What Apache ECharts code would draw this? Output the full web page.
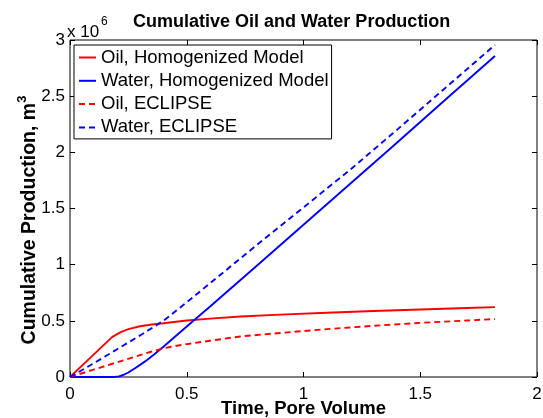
<!DOCTYPE html>
<html>
<head>
<meta charset="utf-8">
<script src="https://cdn.jsdelivr.net/npm/echarts@6/dist/echarts.min.js"></script>
<style>
html,body{margin:0;padding:0;background:#fff;}
#c{width:543px;height:418px;}
</style>
</head>
<body>
<div id="c"></div>
<script>
// Data (pore volume vs cumulative production in 10^6 m^3)
var pvOilHom = [0, 0.1, 0.18, 0.2, 0.22, 0.25, 0.3, 0.35, 0.4, 0.5, 0.6, 0.73, 0.9, 1.1, 1.3, 1.5, 1.7, 1.82];
var oilHom   = [0, 0.197, 0.355, 0.38, 0.402, 0.426, 0.452, 0.467, 0.478, 0.503, 0.52, 0.539, 0.555, 0.572, 0.588, 0.601, 0.614, 0.622];

var pvWaterHom = [0, 0.19, 0.21, 0.23, 0.25, 0.28, 0.3, 0.33, 0.36, 0.4, 0.5, 0.6, 0.8, 1.0, 1.2, 1.4, 1.6, 1.82];
var waterHom   = [0, 0, 0.006, 0.02, 0.04, 0.08, 0.108, 0.152, 0.2, 0.27, 0.45, 0.627, 0.99, 1.355, 1.72, 2.085, 2.455, 2.858];

var pvOilEcl = [0, 0.1, 0.2, 0.3, 0.35, 0.4, 0.45, 0.5, 0.6, 0.73, 0.9, 1.1, 1.3, 1.5, 1.7, 1.82];
var oilEcl   = [0, 0.065, 0.13, 0.195, 0.227, 0.255, 0.275, 0.293, 0.323, 0.361, 0.392, 0.426, 0.456, 0.482, 0.503, 0.516];

var pvWaterEcl = [0, 0.1, 0.2, 0.3, 0.4, 0.5, 0.6, 0.8, 1.0, 1.2, 1.4, 1.6, 1.82];
var waterEcl   = [0, 0.12, 0.245, 0.37, 0.5, 0.665, 0.835, 1.175, 1.51, 1.845, 2.2, 2.56, 2.956];

var seriesNames = ['Oil, Homogenized Model', 'Water, Homogenized Model', 'Oil, ECLIPSE', 'Water, ECLIPSE'];
var xTicks = [0, 0.5, 1, 1.5, 2];
var yTicks = [0, 0.5, 1, 1.5, 2, 2.5, 3];

function pairs(xs, ys) { return xs.map(function (x, i) { return [x, ys[i]]; }); }

var FONT = 'Liberation Sans, Arial, sans-serif';
var chart = echarts.init(document.getElementById('c'), null, {renderer: 'canvas'});

function mkLine(name, xs, ys, color, dashed) {
  return {
    name: name, type: 'line', data: pairs(xs, ys),
    xAxisIndex: 0, yAxisIndex: 0,
    showSymbol: false, symbol: 'none', smooth: false, animation: false,
    lineStyle: {color: color, width: 1.9, type: dashed ? [6, 4] : 'solid'},
    itemStyle: {color: color}
  };
}

var tickStyle = {show: true, inside: true, length: 5, lineStyle: {color: '#000', width: 1}};
var noLine = {show: false, onZero: false};

chart.setOption({
  animation: false,
  backgroundColor: '#fff',
  title: {
    text: 'Cumulative Oil and Water Production',
    left: 128, top: 8,
    textStyle: {fontFamily: FONT, fontSize: 18, fontWeight: 'bold', color: '#000'}
  },
  grid: {left: 70, right: 6, top: 40, bottom: 41, show: true, borderColor: '#000', borderWidth: 1,
         backgroundColor: 'transparent', containLabel: false, outerBoundsMode: 'none'},
  legend: {
    data: seriesNames,
    orient: 'vertical',
    left: 74, top: 45,
    itemWidth: 17, itemHeight: 14, itemGap: 4.3,
    padding: [3, 3, 2, 4],
    borderColor: '#000', borderWidth: 1, backgroundColor: '#fff',
    itemStyle: {opacity: 0},
    textStyle: {fontFamily: FONT, fontSize: 18.5, color: '#000'}
  },
  xAxis: [{
    type: 'value', min: xTicks[0], max: xTicks[xTicks.length - 1], interval: 0.5,
    position: 'bottom',
    axisLine: noLine, axisTick: tickStyle, splitLine: {show: false},
    axisLabel: {fontFamily: FONT, fontSize: 17, color: '#000', margin: 9},
    name: 'Time, Pore Volume', nameLocation: 'middle', nameGap: 22, nameMoveOverlap: false,
    nameTextStyle: {fontFamily: FONT, fontSize: 18.5, fontWeight: 'bold', color: '#000', verticalAlign: 'top'}
  }, {
    type: 'value', min: xTicks[0], max: xTicks[xTicks.length - 1], interval: 0.5,
    position: 'top',
    axisLine: noLine, axisTick: tickStyle, splitLine: {show: false},
    axisLabel: {show: false}
  }],
  yAxis: [{
    type: 'value', min: yTicks[0], max: yTicks[yTicks.length - 1], interval: 0.5,
    position: 'left',
    axisLine: noLine, axisTick: tickStyle, splitLine: {show: false},
    axisLabel: {fontFamily: FONT, fontSize: 17, color: '#000', margin: 5},
    name: '{a|Cumulative Production, m}{s|3}', nameLocation: 'middle', nameGap: 30, nameRotate: 90,
    nameMoveOverlap: false,
    nameTextStyle: {
      fontFamily: FONT, fontSize: 19.5, fontWeight: 'bold', color: '#000', padding: [0, 23, 0, 0],
      rich: {
        a: {fontFamily: FONT, fontSize: 19.5, fontWeight: 'bold', color: '#000', lineHeight: 24, verticalAlign: 'bottom'},
        s: {fontFamily: FONT, fontSize: 13, fontWeight: 'bold', color: '#000', lineHeight: 24, verticalAlign: 'top'}
      }
    }
  }, {
    type: 'value', min: yTicks[0], max: yTicks[yTicks.length - 1], interval: 0.5,
    position: 'right',
    axisLine: noLine, axisTick: tickStyle, splitLine: {show: false},
    axisLabel: {show: false}
  }],
  graphic: [
    {type: 'text', left: 67, top: 24, style: {text: 'x 10', font: '17px ' + FONT, fill: '#000'}, z: 100},
    {type: 'text', left: 101, top: 16, style: {text: '6', font: '12px ' + FONT, fill: '#000'}, z: 100}
  ],
  series: [
    mkLine(seriesNames[0], pvOilHom, oilHom, '#ff0000', false),
    mkLine(seriesNames[1], pvWaterHom, waterHom, '#0000ff', false),
    mkLine(seriesNames[2], pvOilEcl, oilEcl, '#ff0000', true),
    mkLine(seriesNames[3], pvWaterEcl, waterEcl, '#0000ff', true)
  ]
});
</script>
</body>
</html>
